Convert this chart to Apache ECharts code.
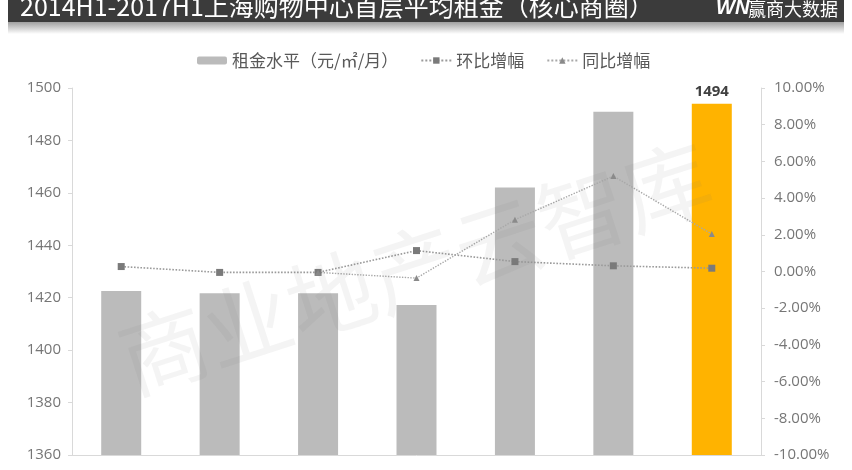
<!DOCTYPE html>
<html>
<head>
<meta charset="utf-8">
<script src="https://cdn.jsdelivr.net/npm/echarts@6/dist/echarts.min.js"></script>
<style>
html,body{margin:0;padding:0;background:#fff;}
#chart{width:852px;height:470px;}
</style>
</head>
<body>
<div id="chart"></div>
<script>
const categories = ['2014H1','2014H2','2015H1','2015H2','2016H1','2016H2','2017H1'];
const rentValues = [1422.6, 1421.7, 1421.7, 1417.2, 1462, 1490.9, 1494];
const momValues = [0.27, -0.05, -0.05, 1.14, 0.54, 0.31, 0.18];
const yoyValues = [null, null, -0.05, -0.36, 2.82, 5.2, 2.04];
const leftTicks = {min:1360, max:1500, interval:20};
const rightTicks = {min:-10, max:10, interval:2};
const titleText = '2014H1-2017H1上海购物中心首层平均租金（核心商圈）';
const seriesNames = ['租金水平（元/㎡/月）','环比增幅','同比增幅'];

const chart = echarts.init(document.getElementById('chart'));
const numFont = 'Open Sans';
const cjk = 'Noto Sans CJK SC';
const last = rentValues.length - 1;

const barData = rentValues.map((v,i)=> i===last ? {
  value:v,
  itemStyle:{color:'#FFB300'},
  label:{show:true, position:'top', distance:4, color:'#404040', fontWeight:'bold', fontSize:15, fontFamily:numFont}
} : v);

chart.setOption({
  animation:false,
  backgroundColor:'#fff',
  grid:{left:72, right:91, top:88, bottom:15, containLabel:false},
  legend:{
    top:47, left:192, itemGap:22, itemWidth:30, itemHeight:8,
    textStyle:{fontFamily:cjk, fontSize:17, color:'#595959'},
    data:seriesNames
  },
  xAxis:{
    type:'category', data:categories, boundaryGap:true,
    axisLine:{onZero:false, lineStyle:{color:'#d9d9d9'}},
    axisTick:{show:false},
    axisLabel:{show:false}
  },
  yAxis:[{
    type:'value', min:leftTicks.min, max:leftTicks.max, interval:leftTicks.interval,
    axisLine:{show:true, lineStyle:{color:'#d9d9d9'}},
    axisTick:{show:true, length:4, lineStyle:{color:'#d9d9d9'}},
    splitLine:{show:false},
    axisLabel:{margin:11, color:'#767676', fontSize:15, fontFamily:numFont,
      formatter:v=>String(v)}
  },{
    type:'value', min:rightTicks.min, max:rightTicks.max, interval:rightTicks.interval,
    position:'right',
    axisLine:{show:true, lineStyle:{color:'#d9d9d9'}},
    axisTick:{show:true, length:4, lineStyle:{color:'#d9d9d9'}},
    splitLine:{show:false},
    axisLabel:{margin:13, color:'#767676', fontSize:15, fontFamily:numFont,
      formatter:v=>v.toFixed(2)+'%'}
  }],
  series:[{
    name:seriesNames[0], type:'bar', data:barData, barWidth:40,
    itemStyle:{color:'#BBBBBB'}, z:1
  },{
    name:seriesNames[1], type:'line', yAxisIndex:1, data:momValues,
    symbol:'rect', symbolSize:7,
    lineStyle:{type:'dotted', width:1.6, color:'#9a9a9a'},
    itemStyle:{color:'#7a7a7a'}, z:3
  },{
    name:seriesNames[2], type:'line', yAxisIndex:1, data:yoyValues,
    symbol:'triangle', symbolSize:6, connectNulls:false,
    lineStyle:{type:'dotted', width:1.4, color:'#a8a8a8'},
    itemStyle:{color:'#8a8a8a'}, z:3
  }],
  graphic:[
    {type:'rect', shape:{x:8, y:0, width:836, height:22}, style:{fill:'#3b3b3b'}, z:10},
    {type:'rect', shape:{x:8, y:22, width:836, height:12},
      style:{fill:new echarts.graphic.LinearGradient(0,0,0,1,[{offset:0,color:'#a0a0a0'},{offset:1,color:'#ffffff'}])}, z:10},
    {type:'text', x:20, y:6, z:11,
      style:{text:titleText, fill:'#ffffff', font:'25px "Noto Sans CJK SC"', verticalAlign:'middle', textAlign:'left'}},
    {type:'text', x:716, y:8, z:11,
      style:{text:'WN', fill:'#ffffff', font:'italic bold 20px "Liberation Sans"', verticalAlign:'middle'}},
    {type:'text', x:748, y:9, z:11,
      style:{text:'赢商大数据', fill:'#ffffff', font:'18px "Noto Sans CJK SC"', verticalAlign:'middle'}},
    {type:'text', x:415, y:268, rotation:Math.PI*18/180, z:20, silent:true,
      style:{text:'商业地产云智库', fill:'rgba(120,120,120,0.08)', font:'88px "Noto Sans CJK SC"', textAlign:'center', verticalAlign:'middle'}}
  ]
});
</script>
</body>
</html>
